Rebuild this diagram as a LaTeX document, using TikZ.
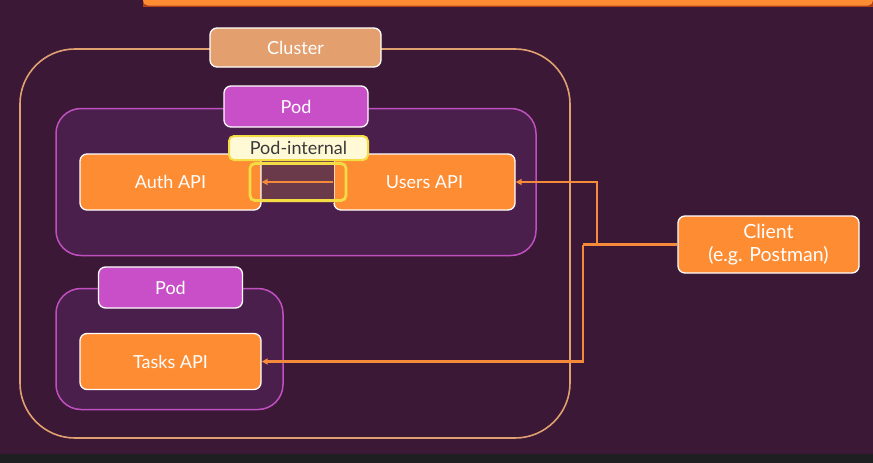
\documentclass[tikz,border=0pt]{standalone}
\usepackage{fontspec}
\setmainfont{Lato}
\usetikzlibrary{arrows.meta}
\definecolor{bgc}{HTML}{3B1836}
\definecolor{podfill}{HTML}{4B1F4B}
\definecolor{podline}{HTML}{C050C0}
\definecolor{podlabel}{HTML}{C84FC7}
\definecolor{clline}{HTML}{E0A070}
\definecolor{cllabel}{HTML}{E3A06E}
\definecolor{apiorange}{HTML}{FD8C33}
\definecolor{arrowc}{HTML}{F58A3A}
\definecolor{creamfill}{HTML}{FFF9D6}
\definecolor{yellowline}{HTML}{F4DC45}
\definecolor{brownfill}{HTML}{6B3A4A}
\definecolor{darktext}{HTML}{3A3A3A}
\definecolor{barred}{HTML}{B0401A}
\definecolor{bottombar}{HTML}{1D1F20}
\tikzset{
  box/.style={rectangle, rounded corners=7pt, draw=white, line width=1.3pt,
    text=white, font=\fontsize{18}{21}\selectfont, align=center, inner sep=0pt},
  api/.style={box, fill=apiorange, minimum width=181pt, minimum height=56pt},
  podlab/.style={box, fill=podlabel, minimum width=144pt, minimum height=41pt},
  podarea/.style={rectangle, rounded corners=25pt, draw=podline, line width=1.5pt, fill=podfill, inner sep=0pt},
  conn/.style={draw=arrowc, line width=2.2pt, -{Triangle[length=6pt,width=6pt]}},
  plainconn/.style={draw=arrowc, line width=2.2pt}
}
\begin{document}
\begin{tikzpicture}[x=1pt,y=-1pt]
\useasboundingbox (0,0) rectangle (873,463);
\fill[bgc] (0,0) rectangle (873,463);
% top bar
\fill[barred] (143,-10) rectangle (873,7);
\fill[apiorange, rounded corners=5pt] (143,-10) rectangle (873,5.5);
% bottom bar
\fill[bottombar] (0,454) rectangle (873,463);
% cluster
\node[rectangle, rounded corners=55pt, draw=clline, line width=1.6pt, minimum width=550pt, minimum height=389pt, inner sep=0pt] (cluster) at (295,243.5) {};
% pods
\node[podarea, minimum width=480pt, minimum height=147pt] (pod1) at (296,182) {};
\node[podarea, minimum width=227pt, minimum height=121pt] (pod2) at (169.5,349) {};
% API and client boxes
\node[box, fill=apiorange, minimum width=181pt, minimum height=57pt, font=\fontsize{19.5}{23}\selectfont] (client) at (768.5,244.5) {Client\\(e.g. Postman)};
\node[api] (auth) at (170.5,182) {Auth API};
\node[api] (users) at (424.5,182) {Users API};
\node[api] (tasks) at (170.5,361.5) {Tasks API};
\coordinate (j1) at (597,244.5);
\coordinate (j2) at (583,244.5);
\draw[plainconn] (client.west) -- (j2);
\draw[conn] (j2) |- (tasks.east);
\draw[conn] (j1) |- (users.east);
% pod-internal
\fill[brownfill] (261.5,160) rectangle (333.5,203);
\draw[conn] (users.west) -- (auth.east);
\node[rectangle, rounded corners=5pt, draw=yellowline, line width=2.8pt, minimum width=96pt, minimum height=37pt, inner sep=0pt] (hl) at (298,182) {};
\node[box, fill=creamfill, draw=yellowline, line width=2pt, text=darktext, rounded corners=5pt, minimum width=139pt, minimum height=24pt] (internal) at (298.5,148) {Pod-internal};
% labels
\node[podlab] (pod1lab) at (296,106.5) {Pod};
\node[podlab] (pod2lab) at (170.5,287.5) {Pod};
\node[box, fill=cllabel, minimum width=171pt, minimum height=39pt] (clusterlab) at (295.5,47.5) {Cluster};
\end{tikzpicture}
\end{document}
